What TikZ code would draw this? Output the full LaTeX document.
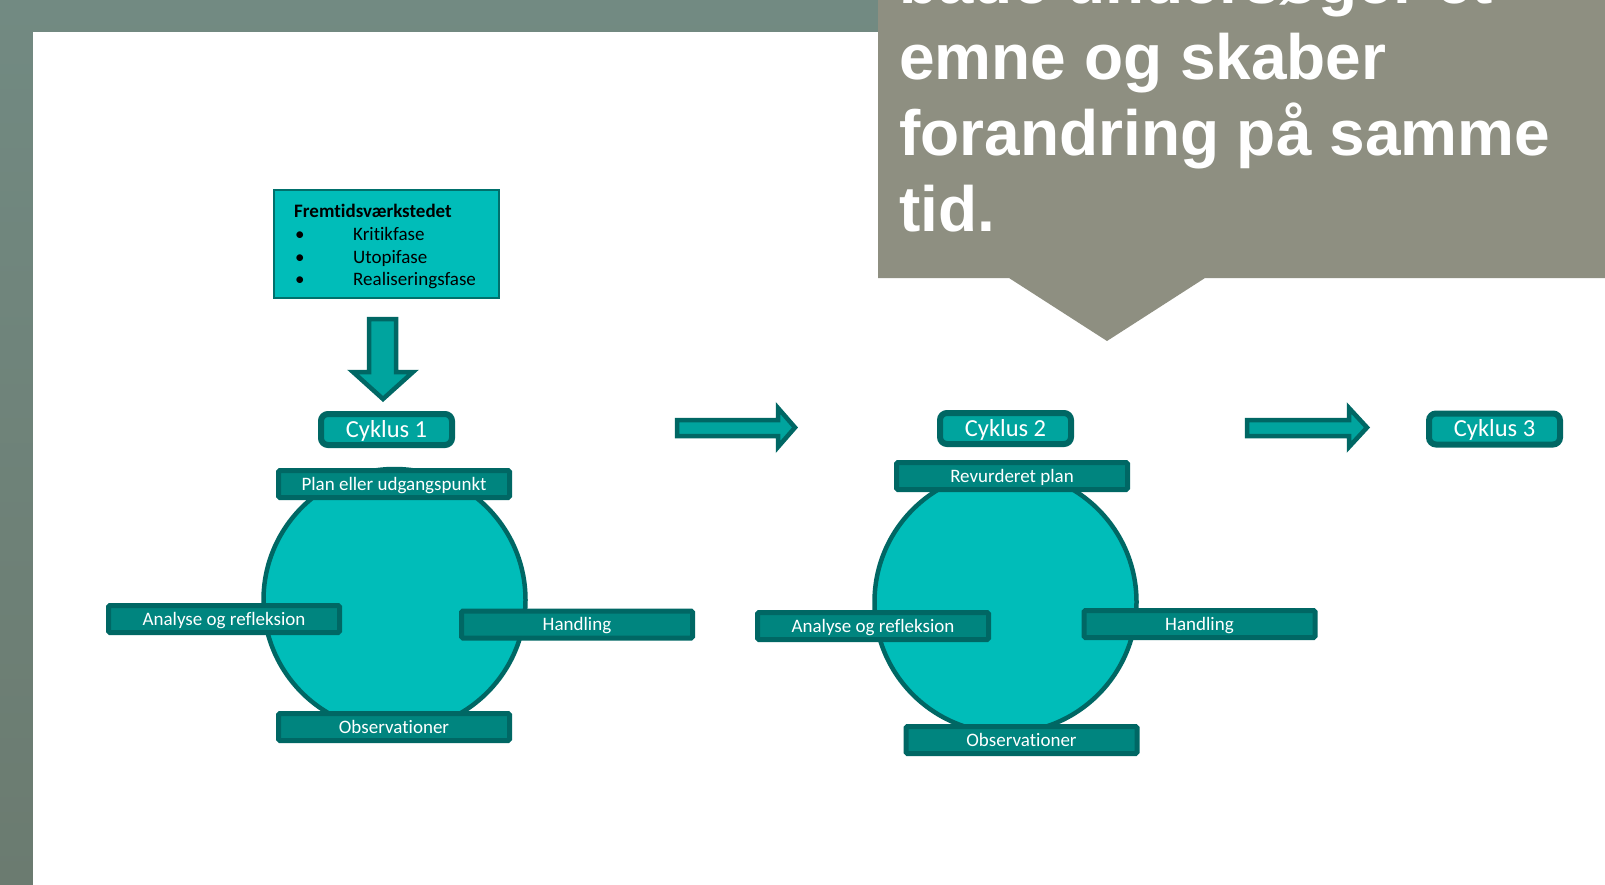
\documentclass[tikz,border=0pt]{standalone}
\usepackage{fontspec}
\setmainfont[Ligatures={NoCommon}]{Carlito}
\newfontfamily\callfont{Liberation Sans}
\definecolor{bgTop}{HTML}{728A82}
\definecolor{bgBot}{HTML}{6B7B70}
\definecolor{callout}{HTML}{8E8F81}
\definecolor{cLight}{HTML}{00BDB9}
\definecolor{cMid}{HTML}{00A49E}
\definecolor{cLab}{HTML}{00857F}
\definecolor{cDark}{HTML}{006764}
\definecolor{cFwBorder}{HTML}{00706C}
\tikzset{
  lab/.style={draw=cDark, line width=5pt, fill=cLab, rounded corners=1.5pt,
    minimum width=231pt, minimum height=27pt, inner sep=0pt, text=white,
    text height=12.3pt, text depth=0pt, font=\fontsize{19}{22}\selectfont},
  cyc/.style={draw=cDark, line width=6pt, fill=cMid, rounded corners=7pt,
    minimum width=131pt, minimum height=31pt, inner sep=0pt, text=white,
    text height=15.5pt, text depth=0pt, font=\fontsize{24.5}{28}\selectfont},
  circ/.style={circle, draw=cDark, line width=4.5pt, fill=cLight,
    minimum size=262pt, inner sep=0pt},
  blockarrow/.style={draw=cDark, line width=4.5pt, fill=cMid, line join=miter},
  fwbox/.style={draw=cFwBorder, line width=2pt, fill=cLight,
    minimum width=225pt, minimum height=108pt, inner sep=0pt},
  fwtext/.style={anchor=base west, inner sep=0pt, text=black,
    font=\fontsize{19}{22}\selectfont},
  calltext/.style={anchor=base west, inner sep=0pt, text=white,
    font=\callfont\bfseries\fontsize{64}{76}\selectfont}
}
\begin{document}
\begin{tikzpicture}[x=1pt,y=-1pt]
\useasboundingbox (0,0) rectangle (1605,885);
% background
\shade[top color=bgTop, bottom color=bgBot] (0,0) rectangle (1605,885);
\fill[white] (33,32) rectangle (1605,885);
% callout
\fill[callout] (878,0) -- (1605,0) -- (1605,278) -- (1205,278) -- (1107,341)
  -- (1009,278) -- (878,278) -- cycle;
\begin{scope}
  \clip (878,0) rectangle (1605,278);
  \node[calltext] (c0) at (899,4) {både undersøger et};
  \node[calltext] (c1) at (899,80) {emne og skaber};
  \node[calltext] (c2) at (899,156) {forandring på samme};
  \node[calltext] (c3) at (899,232) {tid.};
\end{scope}
% Fremtidsvaerkstedet box
\node[fwbox] (fw) at (386.5,244) {};
\node[fwtext, font=\bfseries\fontsize{19}{22}\selectfont] (fwt) at (294,218) {Fremtidsværkstedet};
\node[fwtext] (b1) at (295,240.5) {•};
\node[fwtext] (i1) at (353,240.5) {Kritikfase};
\node[fwtext] (b2) at (295,263) {•};
\node[fwtext] (i2) at (353,263) {Utopifase};
\node[fwtext] (b3) at (295,285) {•};
\node[fwtext] (i3) at (353,285) {Realiseringsfase};
% down arrow
\draw[blockarrow] (369,319) -- (396,319) -- (396,372) -- (413,372) -- (383,399)
  -- (353,372) -- (369,372) -- cycle;
% cycle 1
\node[cyc] (cy1) at (386.5,429.5) {Cyklus 1};
\node[circ] (k1) at (394.5,600) {};
\node[lab] (p1) at (394,484) {Plan eller udgangspunkt};
\node[lab] (a1) at (224,619) {Analyse og refleksion};
\node[lab] (h1) at (577,624.5) {Handling};
\node[lab] (o1) at (394,727) {Observationer};
% arrow 1
\draw[blockarrow] (677,420) -- (778,420) -- (778,408) -- (795,427.5) -- (778,447)
  -- (778,436) -- (677,436) -- cycle;
% cycle 2
\node[cyc] (cy2) at (1005.5,428.5) {Cyklus 2};
\node[circ] (k2) at (1005.5,602) {};
\node[lab] (p2) at (1012,476) {Revurderet plan};
\node[lab] (a2) at (873,626) {Analyse og refleksion};
\node[lab] (h2) at (1199.5,624) {Handling};
\node[lab] (o2) at (1021.5,740) {Observationer};
% arrow 2
\draw[blockarrow] (1247,420) -- (1349,420) -- (1349,408) -- (1367,427.5) -- (1349,447)
  -- (1349,436) -- (1247,436) -- cycle;
% cycle 3
\node[cyc] (cy3) at (1494.5,429) {Cyklus 3};
\end{tikzpicture}
\end{document}
